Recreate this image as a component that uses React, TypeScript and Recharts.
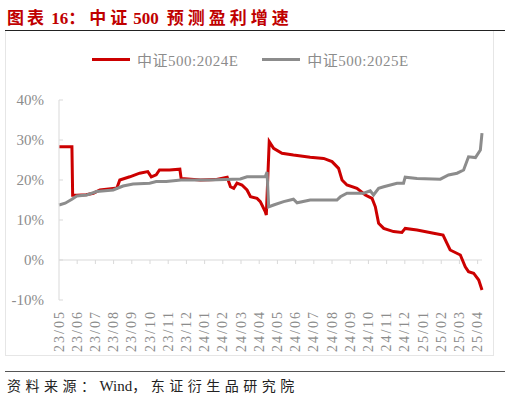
import React from 'react';
import { LineChart, Line, XAxis, YAxis, ReferenceLine, Legend } from 'recharts';

const monthLabels = [
  '23/05', '23/06', '23/07', '23/08', '23/09', '23/10', '23/11', '23/12',
  '24/01', '24/02', '24/03', '24/04', '24/05', '24/06', '24/07', '24/08',
  '24/09', '24/10', '24/11', '24/12', '25/01', '25/02', '25/03', '25/04',
];
const yTicks = [-10, 0, 10, 20, 30, 40];

// time in months since 2023-05-01
const t2024 = [0, 0.71, 0.75, 0.98, 1.49, 1.89, 2.25, 2.98, 3.18, 3.34, 3.89, 4.43, 4.88, 5.07, 5.34, 5.52, 6.07, 6.64, 6.71, 7.77, 8.59, 9.24, 9.42, 9.6, 9.78, 10.05, 10.33, 10.52, 10.88, 11.06, 11.33, 11.39, 11.55, 11.79, 12.25, 12.88, 13.8, 14.54, 15.0, 15.36, 15.55, 15.82, 16.37, 16.83, 17.2, 17.38, 17.56, 17.84, 18.38, 18.84, 19.02, 19.67, 20.58, 21.1, 21.31, 21.49, 22.05, 22.32, 22.5, 22.78, 23.06, 23.24];
const v2024 = [28.3, 28.3, 16.2, 16.2, 16.3, 16.7, 17.5, 17.9, 18.0, 20.0, 20.8, 21.7, 22.1, 20.8, 21.3, 22.5, 22.5, 22.7, 20.4, 20.0, 20.1, 20.7, 18.3, 17.9, 19.2, 18.75, 17.5, 15.8, 15.4, 14.6, 12.1, 11.25, 29.6, 27.9, 26.7, 26.25, 25.7, 25.4, 24.6, 22.9, 20.0, 18.75, 17.9, 16.25, 15.4, 13.3, 9.2, 7.9, 7.1, 6.9, 7.9, 7.5, 6.7, 6.25, 4.2, 2.5, 1.25, -1.7, -2.9, -3.3, -5, -7.5];

const t2025 = [0, 0.34, 0.71, 0.98, 1.53, 2.07, 2.98, 3.52, 4.07, 4.98, 5.34, 5.89, 6.70, 8.25, 9.96, 10.33, 11.33, 11.43, 11.52, 11.79, 12.34, 12.88, 13.08, 13.8, 15.27, 15.46, 15.82, 16.74, 17.1, 17.28, 17.56, 17.84, 18.57, 18.93, 19.02, 19.67, 20.95, 21.4, 21.87, 22.23, 22.5, 22.88, 23.15, 23.24];
const v2025 = [13.75, 14.2, 15.2, 16.0, 16.25, 17.1, 17.5, 18.5, 19.0, 19.2, 19.6, 19.6, 20.0, 20.0, 20.25, 20.8, 20.8, 22.0, 13.3, 13.75, 14.6, 15.2, 14.3, 15.0, 15.0, 15.8, 16.7, 16.7, 17.3, 16.25, 17.9, 18.3, 19.2, 19.2, 20.7, 20.4, 20.2, 21.25, 21.7, 22.5, 25.8, 25.6, 27.5, 31.7];

const seriesNames = ['中证500:2024E', '中证500:2025E'];
const RED = '#cc0000';
const GRAY = '#8c8c8c';
const AXIS = '#d9d9d9';

type Row = { t: number; a?: number; b?: number };
const merged = new Map<number, Row>();
t2024.forEach((t, i) => {
  const r = merged.get(t) ?? { t };
  r.a = v2024[i];
  merged.set(t, r);
});
t2025.forEach((t, i) => {
  const r = merged.get(t) ?? { t };
  r.b = v2025[i];
  merged.set(t, r);
});
const chartData = Array.from(merged.values()).sort((p, q) => p.t - q.t);
const monthTicks = monthLabels.map((_, i) => i);

const SERIF = '"Liberation Serif", "Noto Sans CJK SC", serif';

const XTick = (props: any) => {
  const { x, y, payload } = props;
  const yy = y + 2;
  return (
    <text
      x={x}
      y={yy}
      transform={`rotate(-90 ${x} ${yy})`}
      textAnchor="end"
      dominantBaseline="central"
      fill="#8c8c8c"
      fontSize={14}
      letterSpacing={2}
      fontFamily={SERIF}
    >
      {monthLabels[payload.value]}
    </text>
  );
};

const YTick = (props: any) => {
  const { y, payload } = props;
  return (
    <text
      x={44}
      y={y}
      textAnchor="end"
      dominantBaseline="central"
      fill="#8c8c8c"
      fontSize={15}
      fontFamily={SERIF}
    >
      {`${payload.value}%`}
    </text>
  );
};

const LegendContent = (props: any) => {
  const { payload } = props;
  return (
    <div style={{ display: 'flex', alignItems: 'center', paddingLeft: 92, height: 20 }}>
      {(payload || []).map((p: any, i: number) => (
        <div key={i} style={{ display: 'flex', alignItems: 'center', marginRight: 24 }}>
          <div style={{ width: 38, height: 3, background: p.color, marginRight: 7 }} />
          <span style={{ fontFamily: SERIF, fontSize: 15, color: '#8c8c8c', letterSpacing: 0.5 }}>{p.value}</span>
        </div>
      ))}
    </div>
  );
};

export default function App() {
  return (
    <div style={{ position: 'absolute', left: 0, top: 0, width: 510, height: 399, background: '#fff', overflow: 'hidden' }}>
      <div style={{ position: 'absolute', left: 7, top: 4, fontFamily: SERIF, fontWeight: 700, fontSize: 17, color: '#c00000', whiteSpace: 'pre' }}>
        <span style={{ letterSpacing: 3 }}>图表</span>
        <span>{' 16'}</span>
        <span style={{ letterSpacing: 4 }}>：中证</span>
        <span style={{ marginLeft: 2, marginRight: 8 }}>500</span>
        <span style={{ letterSpacing: 4 }}>预测盈利增速</span>
      </div>
      <div style={{ position: 'absolute', left: 5, top: 30, width: 500, height: 1, background: '#222' }} />
      <div style={{ position: 'absolute', left: 5, top: 31, width: 487, height: 324, border: '1px solid #e6e6e6', borderTop: 'none' }} />
      <div style={{ position: 'absolute', left: 0, top: 0 }}>
        <LineChart width={510} height={399} data={chartData} margin={{ top: 80, right: 28, bottom: 39, left: 9 }}>
          <XAxis
            dataKey="t"
            type="number"
            domain={[0, 23.24]}
            ticks={monthTicks}
            interval={0}
            axisLine={false}
            tickLine={false}
            height={60}
            tick={<XTick />}
          />
          <YAxis
            type="number"
            domain={[-10, 40]}
            ticks={yTicks}
            interval={0}
            width={50}
            axisLine={{ stroke: AXIS }}
            tickLine={false}
            tick={<YTick />}
          />
          {yTicks.map((v) => (
            <ReferenceLine key={'y' + v} segment={[{ x: 0, y: v }, { x: 0.22, y: v }]} stroke={AXIS} />
          ))}
          <ReferenceLine y={0} stroke={AXIS} />
          {monthTicks.slice(1).map((m) => (
            <ReferenceLine key={'x' + m} segment={[{ x: m, y: 0 }, { x: m, y: -1 }]} stroke={AXIS} />
          ))}
          <Legend
            verticalAlign="top"
            height={20}
            content={<LegendContent />}
            wrapperStyle={{ position: 'absolute', top: 49, left: 0, width: 510 }}
          />
          <Line
            dataKey="a"
            name={seriesNames[0]}
            stroke={RED}
            strokeWidth={3}
            dot={false}
            activeDot={false}
            connectNulls
            type="linear"
            isAnimationActive={false}
          />
          <Line
            dataKey="b"
            name={seriesNames[1]}
            stroke={GRAY}
            strokeWidth={3}
            dot={false}
            activeDot={false}
            connectNulls
            type="linear"
            isAnimationActive={false}
          />
        </LineChart>
      </div>
      <div style={{ position: 'absolute', left: 5, top: 371, width: 500, height: 1, background: '#555' }} />
      <div style={{ position: 'absolute', left: 7, top: 375, fontFamily: SERIF, fontSize: 14, color: '#222', whiteSpace: 'pre' }}>
        <span style={{ letterSpacing: 4.5 }}>资料来源：</span>
        <span style={{ fontSize: 15 }}>Wind</span>
        <span style={{ letterSpacing: 4.5 }}>，东证衍生品研究院</span>
      </div>
    </div>
  );
}
